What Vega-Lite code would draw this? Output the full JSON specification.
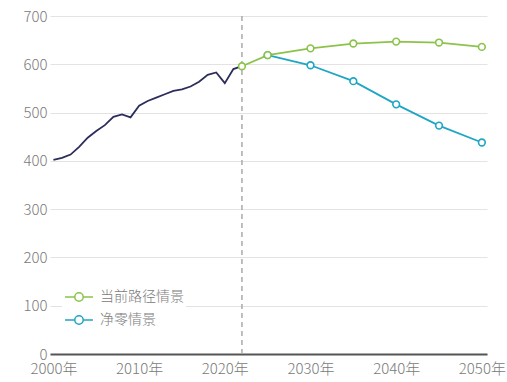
{
  "$schema": "https://vega.github.io/schema/vega-lite/v6.json",
  "autosize": {"type": "none"},
  "width": 437,
  "height": 338,
  "padding": {"left": 50, "top": 16, "right": 20, "bottom": 28},
  "background": "white",
  "config": {
    "font": "Noto Sans CJK SC",
    "view": {"stroke": null},
    "axis": {"labelFont": "Noto Sans CJK SC", "labelFontSize": 15, "labelFontWeight": 300, "labelColor": "#7a7a7a", "ticks": false}
  },
  "datasets": {
    "hist": [
      {"year": 2000, "value": 402}, {"year": 2001, "value": 406}, {"year": 2002, "value": 413},
      {"year": 2003, "value": 429}, {"year": 2004, "value": 448}, {"year": 2005, "value": 462},
      {"year": 2006, "value": 474}, {"year": 2007, "value": 491}, {"year": 2008, "value": 496},
      {"year": 2009, "value": 490}, {"year": 2010, "value": 514}, {"year": 2011, "value": 524},
      {"year": 2012, "value": 531}, {"year": 2013, "value": 538}, {"year": 2014, "value": 545},
      {"year": 2015, "value": 548}, {"year": 2016, "value": 554}, {"year": 2017, "value": 564},
      {"year": 2018, "value": 578}, {"year": 2019, "value": 583}, {"year": 2020, "value": 561},
      {"year": 2021, "value": 590}, {"year": 2022, "value": 596}
    ],
    "scen": [
      {"year": 2025, "value": 619, "series": "净零情景"},
      {"year": 2030, "value": 598, "series": "净零情景"},
      {"year": 2035, "value": 565, "series": "净零情景"},
      {"year": 2040, "value": 517, "series": "净零情景"},
      {"year": 2045, "value": 473, "series": "净零情景"},
      {"year": 2050, "value": 438, "series": "净零情景"},
      {"year": 2022, "value": 596, "series": "当前路径情景"},
      {"year": 2025, "value": 619, "series": "当前路径情景"},
      {"year": 2030, "value": 633, "series": "当前路径情景"},
      {"year": 2035, "value": 643, "series": "当前路径情景"},
      {"year": 2040, "value": 647, "series": "当前路径情景"},
      {"year": 2045, "value": 645, "series": "当前路径情景"},
      {"year": 2050, "value": 636, "series": "当前路径情景"}
    ],
    "marker": [{"year": 2022}]
  },
  "encoding": {
    "x": {
      "field": "year", "type": "quantitative",
      "scale": {"domain": [1999.6, 2050.6], "nice": false, "zero": false},
      "axis": {"values": [2000, 2010, 2020, 2030, 2040, 2050], "labelExpr": "datum.value + '年'", "grid": false, "domainColor": "#555555", "domainWidth": 2, "labelPadding": 7, "title": null, "labelFlush": false}
    }
  },
  "layer": [
    {
      "data": {"name": "hist"},
      "mark": {"type": "line", "color": "#2c2d5b", "strokeWidth": 1.8},
      "encoding": {
        "y": {"field": "value", "type": "quantitative",
          "scale": {"domain": [0, 700], "nice": false},
          "axis": {"values": [0, 100, 200, 300, 400, 500, 600, 700], "domain": false, "gridColor": "#e3e3e3", "gridWidth": 1, "labelPadding": 3, "title": null}}
      }
    },
    {
      "data": {"name": "marker"},
      "mark": {"type": "rule", "color": "#aaaaaa", "strokeDash": [5, 4], "strokeWidth": 1.5},
      "encoding": {}
    },
    {
      "data": {"name": "scen"},
      "mark": {"type": "line", "strokeWidth": 1.8, "point": {"filled": false, "fill": "white", "size": 45, "strokeWidth": 1.6}},
      "encoding": {
        "y": {"field": "value", "type": "quantitative"},
        "color": {
          "field": "series", "type": "nominal",
          "scale": {"domain": ["当前路径情景", "净零情景"], "range": ["#8cc34b", "#1fa6c4"]},
          "legend": {
            "title": null, "orient": "none", "legendX": 12, "legendY": 264,
            "fillColor": "white", "padding": 2,
            "labelFontSize": 14, "labelFontWeight": 300, "labelColor": "#7a7a7a", "labelFont": "Noto Sans CJK SC",
            "symbolType": "M-1,0L-0.3,0A0.3,0.3,0,1,1,0.3,0A0.3,0.3,0,1,1,-0.3,0M0.3,0L1,0",
            "symbolSize": 784, "symbolStrokeWidth": 1.5, "symbolFillColor": "white", "rowPadding": 0, "labelOffset": 6
          }
        }
      }
    }
  ]
}
